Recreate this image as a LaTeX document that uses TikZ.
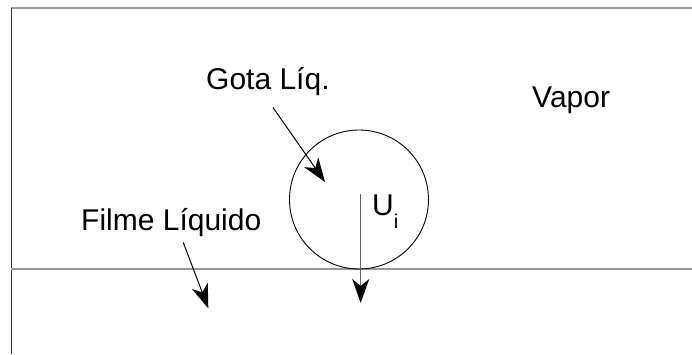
\documentclass[tikz,border=0pt]{standalone}
\usepackage{fontspec}
\setmainfont{Liberation Sans}
\usetikzlibrary{arrows.meta}

\begin{document}
\begin{tikzpicture}[x=1pt, y=1pt, font=\fontsize{30}{35}\selectfont,
    label/.style={inner sep=0pt, anchor=base west},
    wall/.style={line width=1.5pt, black!80},
    edge/.style={line width=1.5pt, black!40},
    pointer/.style={line width=1pt, -{Stealth[length=24pt, width=17pt, inset=7pt, color=black]}}]

    \useasboundingbox (0,0) rectangle (692,354);

    % Walls and interface
    \draw[edge] (11,346) -- (692,346);
    \draw[wall] (11.5,346) -- (11.5,0);
    \draw[edge] (11,85) -- (692,85);

    % Drop
    \node[circle, draw, line width=0.9pt, minimum size=139pt, inner sep=0pt] (drop) at (359,154.5) {};

    % Labels
    \node[label] (vapor) at (532,247) {Vapor};
    \node[label] (gota) at (206,264) {Gota Líq.};
    \node[label] (filme) at (81,124) {Filme Líquido};
    \node[label] (ui) at (372,139) {U\raisebox{-13pt}{\fontsize{20}{20}\selectfont i}};

    % Arrow ends
    \coordinate (gotatip) at (325,172);
    \coordinate (filmetip) at (208.3,45.7);
    \coordinate (uitip) at (360.7,51);

    % Arrows
    \draw[pointer] ([shift={(5,-11)}]gota.south) -- (gotatip);
    \draw[pointer] ([shift={(12,-6)}]filme.south) -- (filmetip);
    \draw[pointer, line width=1.5pt, black!60] ([shift={(1.7,5.5)}]drop.center) -- (uitip);

\end{tikzpicture}
\end{document}
